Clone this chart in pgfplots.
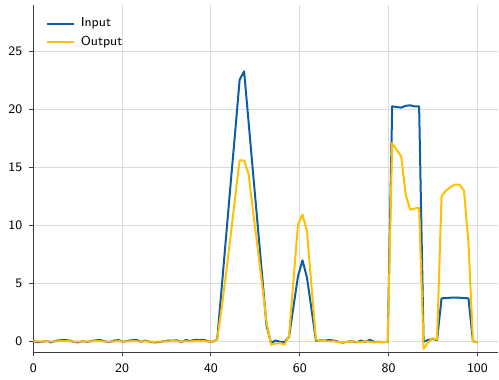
\documentclass[border=0pt]{standalone}
\usepackage{pgfplots}
\pgfplotsset{compat=1.18}
\usepackage{pgfplotstable}
\definecolor{cin}{RGB}{12,93,165}
\definecolor{cout}{RGB}{255,192,0}
\definecolor{spine}{RGB}{60,60,60}
\pgfplotstableread{
x in out
0.00 0.00 0.00
1.01 -0.08 -0.02
2.02 -0.05 -0.03
3.03 0.02 0.00
4.04 -0.10 -0.03
5.05 0.03 -0.02
6.06 0.08 0.00
7.07 0.10 0.01
8.08 0.06 0.00
9.09 -0.05 -0.03
10.10 -0.10 -0.04
11.11 0.00 -0.02
12.12 -0.06 -0.03
13.13 0.02 -0.01
14.14 0.08 0.01
15.15 0.10 0.00
16.16 -0.02 -0.02
17.17 -0.08 -0.04
18.18 0.05 -0.01
19.19 0.10 0.01
20.20 -0.05 -0.03
21.21 0.03 -0.01
22.22 0.08 0.00
23.23 0.12 0.00
24.24 -0.05 -0.03
25.25 0.06 0.00
26.26 -0.06 -0.04
27.27 -0.10 -0.05
28.28 -0.08 -0.04
29.29 -0.02 -0.03
30.30 0.05 -0.01
31.31 0.04 0.00
32.32 0.08 0.00
33.33 -0.08 -0.04
34.34 0.10 0.00
35.35 0.02 -0.02
36.36 0.12 0.01
37.37 0.10 0.00
38.38 0.12 0.01
39.39 -0.02 -0.02
40.40 -0.04 -0.03
41.41 0.15 0.15
42.42 4.60 2.90
43.43 9.10 5.90
44.44 13.60 9.10
45.45 18.00 12.40
46.46 22.55 15.60
47.47 23.28 15.60
48.48 18.90 14.40
49.49 14.50 11.20
50.51 10.10 8.10
51.52 5.70 4.90
52.53 1.30 1.60
53.54 -0.15 -0.30
54.55 0.06 -0.20
55.56 -0.05 -0.15
56.57 -0.08 -0.30
57.58 0.38 0.45
58.59 3.00 5.30
59.60 5.60 10.06
60.61 6.98 10.92
61.62 5.50 9.50
62.63 2.80 4.80
63.64 0.05 0.15
64.65 0.08 0.05
65.66 0.05 0.00
66.67 0.10 -0.02
67.68 0.06 0.00
68.69 -0.05 -0.10
69.70 -0.12 -0.05
70.71 -0.05 -0.05
71.72 0.00 0.00
72.73 -0.10 -0.05
73.74 0.05 -0.08
74.75 -0.05 0.00
75.76 0.12 -0.05
76.77 -0.05 -0.10
77.78 -0.06 -0.05
78.79 -0.08 -0.05
79.80 -0.08 -0.05
80.81 20.26 17.10
81.82 20.20 16.50
82.83 20.15 15.95
83.84 20.30 12.65
84.85 20.35 11.35
85.86 20.25 11.45
86.87 20.25 11.50
87.88 -0.05 -0.66
88.89 0.10 -0.10
89.90 0.20 0.25
90.91 0.10 0.15
91.92 3.70 12.50
92.93 3.72 13.00
93.94 3.75 13.30
94.95 3.75 13.50
95.96 3.75 13.50
96.97 3.72 13.00
97.98 3.70 8.50
98.99 0.00 0.00
100.00 -0.10 -0.10
}\datatable
\begin{document}
\begin{tikzpicture}[font=\sffamily\fontsize{6.5}{7.5}\selectfont]
\begin{axis}[
  scale only axis,
  width=232.85pt, height=173.85pt,
  xmin=0, xmax=104.7, ymin=-0.95, ymax=29,
  axis x line*=bottom, axis y line*=left,
  axis line style={spine, line width=0.7pt},
  xtick={0,20,40,60,80,100},
  ytick={0,5,10,15,20,25},
  tick align=outside,
  major tick length=2pt,
  tick style={spine, line width=0.5pt},
  grid=major,
  major grid style={gray!28, line width=0.5pt},
  /pgf/number format/assume math mode=true,
  ticklabel style={font=\sffamily\fontsize{6.5}{7.5}\selectfont},
  legend style={draw=none, fill=none, at={(0,1)}, anchor=north west,
    xshift=3pt, yshift=-2.3pt, row sep=-0.9pt,
    /tikz/every odd column/.append style={column sep=0.9pt},
    font=\sffamily\fontsize{6.5}{7.5}\selectfont},
  legend cell align=left,
  legend image code/.code={\draw[#1] (0pt,0pt) -- (13.7pt,0pt);},
]
\addplot[cin, line width=1pt, line join=round] table[x=x, y=in] {\datatable};
\addlegendentry{Input}
\addplot[cout, line width=1pt, line join=round] table[x=x, y=out] {\datatable};
\addlegendentry{Output}
\end{axis}
\path ([xshift=-16.65pt,yshift=-13.65pt]current axis.south west) rectangle ([yshift=2.5pt]current axis.north east);
\end{tikzpicture}
\end{document}
